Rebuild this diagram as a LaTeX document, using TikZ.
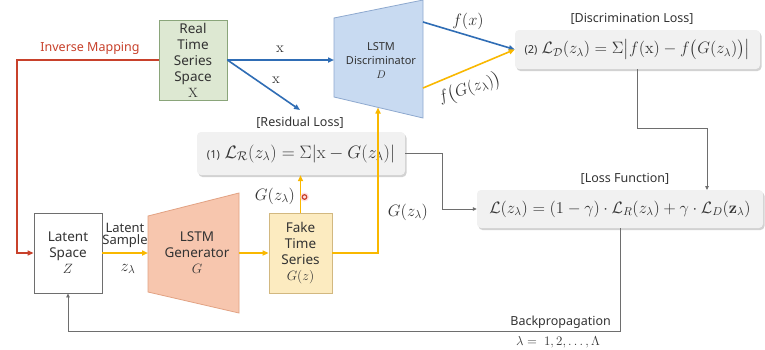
\RequirePackage{fix-cm}
\documentclass[tikz,border=0pt]{standalone}
\usepackage{amsmath,amssymb}
\usepackage[no-math]{fontspec}
\setmainfont{Noto Sans}
\usetikzlibrary{arrows.meta,shadows,calc}
\definecolor{cblue}{HTML}{2F6DB5}
\definecolor{cyel}{HTML}{F9B800}
\definecolor{cred}{HTML}{C8412B}
\definecolor{cgray}{HTML}{6E6E6E}
\definecolor{greenfill}{HTML}{DDE8D2}
\definecolor{greenline}{HTML}{8AA57A}
\definecolor{salmon}{HTML}{F7C6AE}
\definecolor{salmonline}{HTML}{E2A283}
\definecolor{discfill}{HTML}{C8DAF1}
\definecolor{discline}{HTML}{8EA9CF}
\definecolor{yelfill}{HTML}{FCEBC0}
\definecolor{yelline}{HTML}{D2B880}
\definecolor{lossfill}{HTML}{F1F1F1}
\definecolor{txt}{HTML}{333333}
\begin{document}
\begin{tikzpicture}[x=1pt,y=-1pt,
  every node/.style={text=txt},
  lbl/.style={font=\fontsize{12.5}{15}\selectfont, inner sep=0pt},
  blk/.style={draw, line width=0.8pt, align=center, inner sep=0pt,
    font=\fontsize{13.5}{16}\selectfont},
  lossbox/.style={draw=none, fill=lossfill, rounded corners=4pt, inner sep=0pt,
    drop shadow={shadow xshift=1.5pt, shadow yshift=-2pt, opacity=0.35}},
  mth/.style={font=\fontsize{16.5}{19}\selectfont, inner sep=0pt},
  arr/.style={-{Triangle[length=6pt,width=5pt]}, line width=1.6pt},
  garr/.style={-{Triangle[length=4pt,width=3.5pt]}, line width=0.8pt, draw=cgray},
]
\useasboundingbox (0,0) rectangle (765,349);
\fill[white] (0,0) rectangle (765,349);

% trapezoids
\coordinate (g1) at (148,216); \coordinate (g2) at (239,193);
\coordinate (g3) at (239,313); \coordinate (g4) at (148,292);
\draw[fill=salmon, draw=salmonline, line width=0.8pt] (g1) -- (g2) -- (g3) -- (g4) -- cycle;
\node[blk, draw=none] (gen) at (197,253) {LSTM\\Generator\\$G$};

\coordinate (d1) at (334,18); \coordinate (d2) at (423,0);
\coordinate (d3) at (423,118); \coordinate (d4) at (334,97);
\draw[fill=discfill, draw=discline, line width=0.8pt] (d1) -- (d2) -- (d3) -- (d4) -- cycle;
\node[blk, draw=none, font=\fontsize{11}{14}\selectfont] (disc) at (381,61) {LSTM\\Discriminator\\$D$};

% boxes
\node[blk, fill=greenfill, draw=greenline, minimum width=68pt, minimum height=80pt] (real) at (193,60) {Real\\Time\\Series\\Space\\$\mathrm{X}$};
\node[blk, fill=white, draw=cgray, minimum width=68pt, minimum height=80pt] (latent) at (68,253) {Latent\\Space\\$Z$};
\node[blk, fill=yelfill, draw=yelline, minimum width=63pt, minimum height=80pt] (fake) at (300.5,253) {Fake\\Time\\Series\\$G(z)$};

% loss boxes
\node[lossbox, minimum width=208pt, minimum height=43pt] (res) at (301,153.5) {};
\node[mth, font=\fontsize{18}{20}\selectfont] (resf) at (res) {{\fontsize{11}{12}\selectfont(1)} $\mathcal{L}_{\mathcal{R}}(z_\lambda) = \Sigma|\mathrm{x} - G(z_\lambda)|$};
\node[lossbox, minimum width=245pt, minimum height=39pt] (dis) at (637.5,49.5) {};
\node[mth] (disf) at (dis) {{\fontsize{11}{12}\selectfont(2)} $\mathcal{L}_{\mathcal{D}}(z_\lambda) = \Sigma\bigl|f(\mathrm{x}) - f\bigl(G(z_\lambda)\bigr)\bigr|$};
\node[lossbox, minimum width=286pt, minimum height=38pt] (lf) at (620,209) {};
\node[mth] (lff) at (lf) {$\mathcal{L}(z_\lambda) = (1-\gamma)\cdot\mathcal{L}_R(z_\lambda) + \gamma\cdot\mathcal{L}_D(\mathbf{z}_\lambda)$};

\node[lbl] (lres) at (300,123) {[Residual Loss]};
\node[lbl] (ldis) at (632,19) {[Discrimination Loss]};
\node[lbl] (llf) at (625,179) {[Loss Function]};

% red inverse mapping
\node[lbl, text=cred] (inv) at (90,48) {Inverse Mapping};
\draw[arr, draw=cred, line width=1.4pt] (real.west) -- (17,60) |- (latent.west);

% blue
\coordinate (dl) at (334,60);
\coordinate (xres) at (300,110);
\draw[arr, draw=cblue] (real.east) -- (dl);
\draw[arr, draw=cblue] (real.east) -- (xres);
\node[lbl, font=\fontsize{15}{16}\selectfont] at (280,49) {$\mathrm{x}$};
\node[lbl, font=\fontsize{15}{16}\selectfont] at (276,80) {$\mathrm{x}$};
\coordinate (dr1) at (423,22);
\coordinate (dr2) at (423,88);
\draw[arr, draw=cblue] (dr1) -- (dis.west);
\draw[arr, draw=cyel] (dr2) -- (dis.west);
\node[mth] at (468,21) {$f(x)$};
\node[mth, rotate=18] at (470,89) {$f\bigl(G(z_\lambda)\bigr)$};

% yellow
\draw[arr, draw=cyel] (latent.east) -- (latent.east -| g1);
\draw[arr, draw=cyel] (g2 |- fake.west) -- (fake.west);
\draw[arr, draw=cyel] (fake.north) -- (res.south -| fake.north);
\coordinate (dbot) at (378,107.5);
\draw[arr, draw=cyel] (fake.east) -| (dbot);
\node[mth] at (275,196) {$G(z_\lambda)$};
\node[mth] at (408,212) {$G(z_\lambda)$};
\node[lbl, font=\fontsize{13}{15}\selectfont] (ls) at (125,235) {\begin{tabular}{@{}c@{}}Latent\\[-3pt]Sample\end{tabular}};
\node[mth] at (128,269) {$z_\lambda$};

% red pointer dot
\fill[red!20, opacity=0.6] (304.5,197) circle (4.5pt);
\draw[cred, line width=1.2pt] (304.5,197) circle (2.3pt);

% gray connectors
\draw[garr] (res.east) -- ++(37,0) |- (lf.west);
\coordinate (dsb) at (637,69);
\coordinate (lft) at (707,190);
\draw[garr] (dsb) -- (637,128) -| (lft);
\draw[garr] (lf.south) -- ++(0,103) -| (latent.south);
\node[lbl, anchor=east] (bp) at (611,322) {Backpropagation};
\node[mth, font=\fontsize{13}{15}\selectfont] at (558,342) {$\lambda =\ 1,2,\ldots,\Lambda$};
\end{tikzpicture}
\end{document}
